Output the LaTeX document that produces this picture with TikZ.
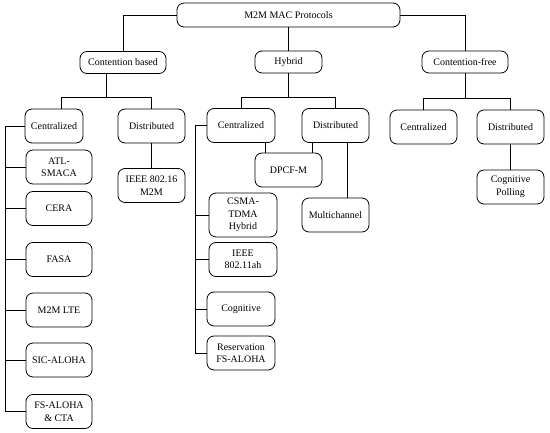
\documentclass[tikz,border=0pt]{standalone}
\usepackage{fontspec}
\setmainfont{Liberation Serif}

\begin{document}
\begin{tikzpicture}[x=1pt,y=-1pt,line width=0.8pt,
  font=\fontsize{10}{12.5}\selectfont,
  box/.style={draw,rounded corners=7pt,align=center,inner sep=1pt,
    minimum width=67pt,minimum height=34pt},
  head/.style={box,minimum width=86pt,minimum height=22pt}]
  \useasboundingbox (0,0) rectangle (550,433);
  % ----- root -----
  \node[box,minimum width=223pt,minimum height=24pt] (root) at (288.5,15){M2M MAC Protocols};
  \node[head] (cb) at (123,62.5){Contention based};
  \node[head,minimum width=67pt] (hyb) at (288.5,62){Hybrid};
  \node[head] (cf) at (465,62){Contention-free};
  \draw (root.west) -| (cb.north);
  \draw (root.south) -- (hyb.north);
  \draw (root.east) -| (cf.north);
  % ----- contention based -----
  \node[box,minimum width=58pt] (cbcen) at (54,126){Centralized};
  \node[box] (cbdis) at (151.5,126){Distributed};
  \node[box] (ieee16) at (151.5,185.5){IEEE 802.16\\M2M};
  \coordinate (cbj) at (106,97);
  \coordinate (cbl) at (61,97);
  \draw (cbj |- cb.south) -- (cbj);
  \draw (cbl |- cbcen.north) -- (cbl) -- (cbl -| cbdis) -- (cbdis.north);
  \draw (cbdis) -- (ieee16);
  \foreach \n/\y/\t in {atl/167/{ATL-\\SMACA},cera/208.5/CERA,fasa/259.5/FASA,
                        lte/310/M2M LTE,sic/360/SIC-ALOHA,fsa/411.5/{FS-ALOHA\\\& CTA}}{
     \node[box,minimum width=66pt] (\n) at (59,\y){\t};}
  \coordinate (cbr) at (5,0);
  \draw (cbcen.west) -- (cbcen.west -| cbr) -- (fsa.west -| cbr) -- (fsa.west);
  \foreach \n in {atl,cera,fasa,lte,sic}
     \draw (\n.west -| cbr) -- (\n.west);
  % ----- hybrid -----
  \node[box,minimum width=68pt] (hcen) at (241,125.5){Centralized};
  \node[box] (hdis) at (335.5,125.5){Distributed};
  \node[box] (dpcf) at (288.5,170){DPCF-M};
  \node[box] (multi) at (335.5,215){Multichannel};
  \coordinate (hj) at (288.5,97);
  \draw (hyb.south) -- (hj);
  \draw (hcen.north) -- (hcen.north |- hj) -- (hdis.north |- hj) -- (hdis.north);
  \coordinate (dl) at (265,0);
  \coordinate (dr) at (312,0);
  \coordinate (ml) at (347,0);
  \draw (dl |- hcen.south) -- (dl |- dpcf.north);
  \draw (dr |- hdis.south) -- (dr |- dpcf.north);
  \draw (ml |- hdis.south) -- (ml |- multi.north);
  \node[box,minimum width=68pt,minimum height=44pt] (csma) at (243,215){CSMA-\\TDMA\\Hybrid};
  \foreach \n/\x/\y/\t in {ieee11/243/259.5/{IEEE\\802.11ah},cog/241/309/Cognitive,
                           res/241/353/{Reservation\\FS-ALOHA}}{
     \node[box,minimum width=68pt] (\n) at (\x,\y){\t};}
  \coordinate (hr) at (195,0);
  \draw (hcen.west) -- (hcen.west -| hr) -- (res.west -| hr) -- (res.west);
  \foreach \n in {csma,ieee11,cog}
     \draw (\n.west -| hr) -- (\n.west);
  % ----- contention-free -----
  \node[box] (cfcen) at (423.5,127){Centralized};
  \node[box] (cfdis) at (510.5,127){Distributed};
  \node[box] (cp) at (510.5,187){Cognitive\\Polling};
  \coordinate (cfj) at (465,98);
  \draw (cf.south) -- (cfj);
  \draw (cfcen.north) -- (cfcen.north |- cfj) -- (cfdis.north |- cfj) -- (cfdis.north);
  \draw (cfdis) -- (cp);
\end{tikzpicture}
\end{document}
